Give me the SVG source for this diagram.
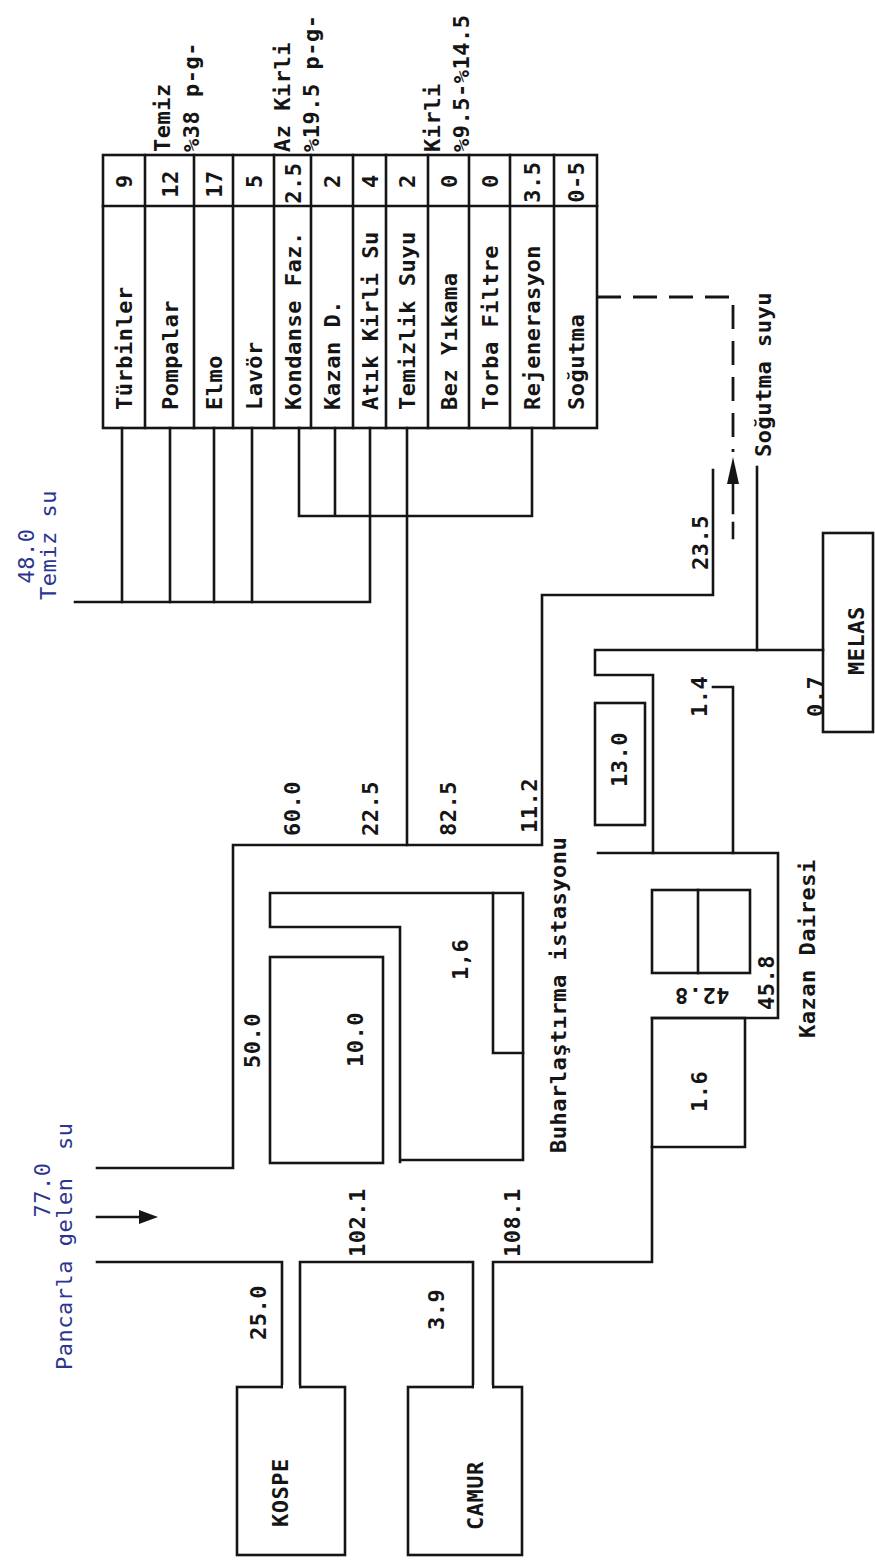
<svg xmlns="http://www.w3.org/2000/svg" width="875" height="1560" viewBox="0 0 875 1560">
<style>
.ln{stroke:#151515;stroke-width:2.6;fill:none;stroke-linecap:square}
.ds{stroke:#151515;stroke-width:2.8;fill:none;stroke-dasharray:24 12}
.t{font-family:"DejaVu Sans Mono","Liberation Mono",monospace;font-size:22px;font-weight:bold;fill:#151515;letter-spacing:0.5px}
.m{text-anchor:middle}
.b{fill:#2b3590;font-weight:normal}
</style>
<rect width="875" height="1560" fill="#fff"/>
<g id="connectors">
<path class="ln" d="M75 602 H370 V428"/>
<path class="ln" d="M122 428 V602 M170 428 V602 M214 428 V602 M252 428 V602"/>
<path class="ln" d="M299 428 V516 H532 V428 M335 428 V516"/>
<path class="ln" d="M407 428 V845"/>
<path class="ln" d="M97 1168 H233 V845 H542 V595 H713 V470"/>
<path class="ln" d="M400 1162 V927 H270 V893 H523 V1160 H400"/>
<path class="ln" d="M97 1262 H282 V1387"/>
<path class="ln" d="M300 1387 V1262 H473 V1387"/>
<path class="ln" d="M493 1387 V1262 H652 V1018 H778 V853 H598"/>
<path class="ln" d="M653 853 V675 H595 V650 H823"/>
<path class="ln" d="M757 650 V467"/>
<path class="ln" d="M713 687 H733 V853"/>
<path class="ds" d="M597 297 H733 V452"/>
<path class="ln" d="M733 483 V513 M733 523 V538"/>
<polygon points="733,457 727,484 739,484" fill="#151515"/>
<path class="ln" d="M97 1217 H142"/>
<polygon points="158,1217 139,1210 139,1224" fill="#151515"/>
</g>
<g id="table">
<rect class="ln" x="103" y="155" width="494" height="273"/>
<path class="ln" d="M103 206 H597 M145 155 V428 M194 155 V428 M233 155 V428 M274 155 V428 M311 155 V428 M353 155 V428 M386 155 V428 M428 155 V428 M469 155 V428 M510 155 V428 M554 155 V428"/>
<g class="t m">
<text transform="translate(132,181) rotate(-90)">9</text>
<text transform="translate(177.5,184) rotate(-90)">12</text>
<text transform="translate(221.5,184) rotate(-90)">17</text>
<text transform="translate(261.5,181) rotate(-90)">5</text>
<text transform="translate(300.5,183) rotate(-90)">2.5</text>
<text transform="translate(340,181) rotate(-90)">2</text>
<text transform="translate(377.5,181) rotate(-90)">4</text>
<text transform="translate(415,181) rotate(-90)">2</text>
<text transform="translate(456.5,181) rotate(-90)">0</text>
<text transform="translate(497.5,181) rotate(-90)">0</text>
<text transform="translate(540,182) rotate(-90)">3.5</text>
<text transform="translate(583.5,182) rotate(-90)">0-5</text>
</g>
<g class="t">
<text transform="translate(132,410) rotate(-90)">Türbinler</text>
<text transform="translate(177.5,410) rotate(-90)">Pompalar</text>
<text transform="translate(221.5,410) rotate(-90)">Elmo</text>
<text transform="translate(261.5,410) rotate(-90)">Lavör</text>
<text transform="translate(300.5,410) rotate(-90)">Kondanse Faz.</text>
<text transform="translate(340,410) rotate(-90)">Kazan D.</text>
<text transform="translate(377.5,410) rotate(-90)">Atık Kirli Su</text>
<text transform="translate(415,410) rotate(-90)">Temizlik Suyu</text>
<text transform="translate(456.5,410) rotate(-90)">Bez Yıkama</text>
<text transform="translate(497.5,410) rotate(-90)">Torba Filtre</text>
<text transform="translate(540,410) rotate(-90)">Rejenerasyon</text>
<text transform="translate(583.5,410) rotate(-90)">Soğutma</text>
</g>
<g class="t">
<text transform="translate(170,152) rotate(-90)">Temiz</text>
<text transform="translate(199,152) rotate(-90)">%38 p-g-</text>
<text transform="translate(290,152) rotate(-90)">Az Kirli</text>
<text transform="translate(319,152) rotate(-90)">%19.5 p-g-</text>
<text transform="translate(440,152) rotate(-90)">Kirli</text>
<text transform="translate(469,152) rotate(-90)">%9.5-%14.5</text>
</g>
</g>
<g id="inputs" class="t b">
<text class="m" transform="translate(34,556) rotate(-90)">48.0</text>
<text transform="translate(56,600) rotate(-90)">Temiz su</text>
<text class="m" transform="translate(50,1190) rotate(-90)">77.0</text>
<text transform="translate(72,1370) rotate(-90)" style="white-space:pre">Pancarla gelen  su</text>
</g>
<g id="evaporation" class="t">
<rect class="ln" x="270" y="957" width="113" height="206"/>
<path class="ln" d="M493 893 V1053 H523"/>
<text transform="translate(300,836) rotate(-90)">60.0</text>
<text transform="translate(378,836) rotate(-90)">22.5</text>
<text transform="translate(456,836) rotate(-90)">82.5</text>
<text transform="translate(537,833) rotate(-90)">11.2</text>
<text transform="translate(260,1068) rotate(-90)">50.0</text>
<text transform="translate(363,1067) rotate(-90)">10.0</text>
<text transform="translate(468,980) rotate(-90)">1,6</text>
<text transform="translate(566,1153) rotate(-90)">Buharlaştırma istasyonu</text>
<text transform="translate(708,570) rotate(-90)">23.5</text>
</g>
<g id="kospe">
<rect class="ln" x="237" y="1387" width="108" height="168"/>
<path d="M283 1387 H299" stroke="#fff" stroke-width="4"/>
<text class="t" transform="translate(288,1527) rotate(-90)">KOSPE</text>
<text class="t" transform="translate(266,1340) rotate(-90)">25.0</text>
<text class="t" transform="translate(365,1257) rotate(-90)">102.1</text>
</g>
<g id="camur">
<rect class="ln" x="408" y="1387" width="114" height="168"/>
<path d="M474 1387 H492" stroke="#fff" stroke-width="4"/>
<text class="t" transform="translate(483,1530) rotate(-90)">CAMUR</text>
<text class="t" transform="translate(444,1330) rotate(-90)">3.9</text>
<text class="t" transform="translate(520,1257) rotate(-90)">108.1</text>
</g>
<g id="kazan" class="t">
<rect class="ln" x="595" y="703" width="50" height="122"/>
<text transform="translate(627,787) rotate(-90)">13.0</text>
<rect class="ln" x="652" y="890" width="98" height="83"/>
<path class="ln" d="M698 890 V973"/>
<path class="ln" d="M652 1018 H745 V1147 H652"/>
<text transform="translate(707,1112) rotate(-90)">1.6</text>
<text class="m" transform="translate(702,988) rotate(180)">42.8</text>
<text transform="translate(774,1010) rotate(-90)">45.8</text>
<text transform="translate(707,717) rotate(-90)">1.4</text>
<text transform="translate(815,1038) rotate(-90)">Kazan Dairesi</text>
</g>
<g id="melas" class="t">
<rect class="ln" x="823" y="533" width="50" height="199"/>
<text transform="translate(864,675) rotate(-90)">MELAS</text>
<text transform="translate(823,717) rotate(-90)">0.7</text>
</g>
<g id="cooling" class="t">
<text transform="translate(771,457) rotate(-90)">Soğutma suyu</text>
</g>
</svg>
